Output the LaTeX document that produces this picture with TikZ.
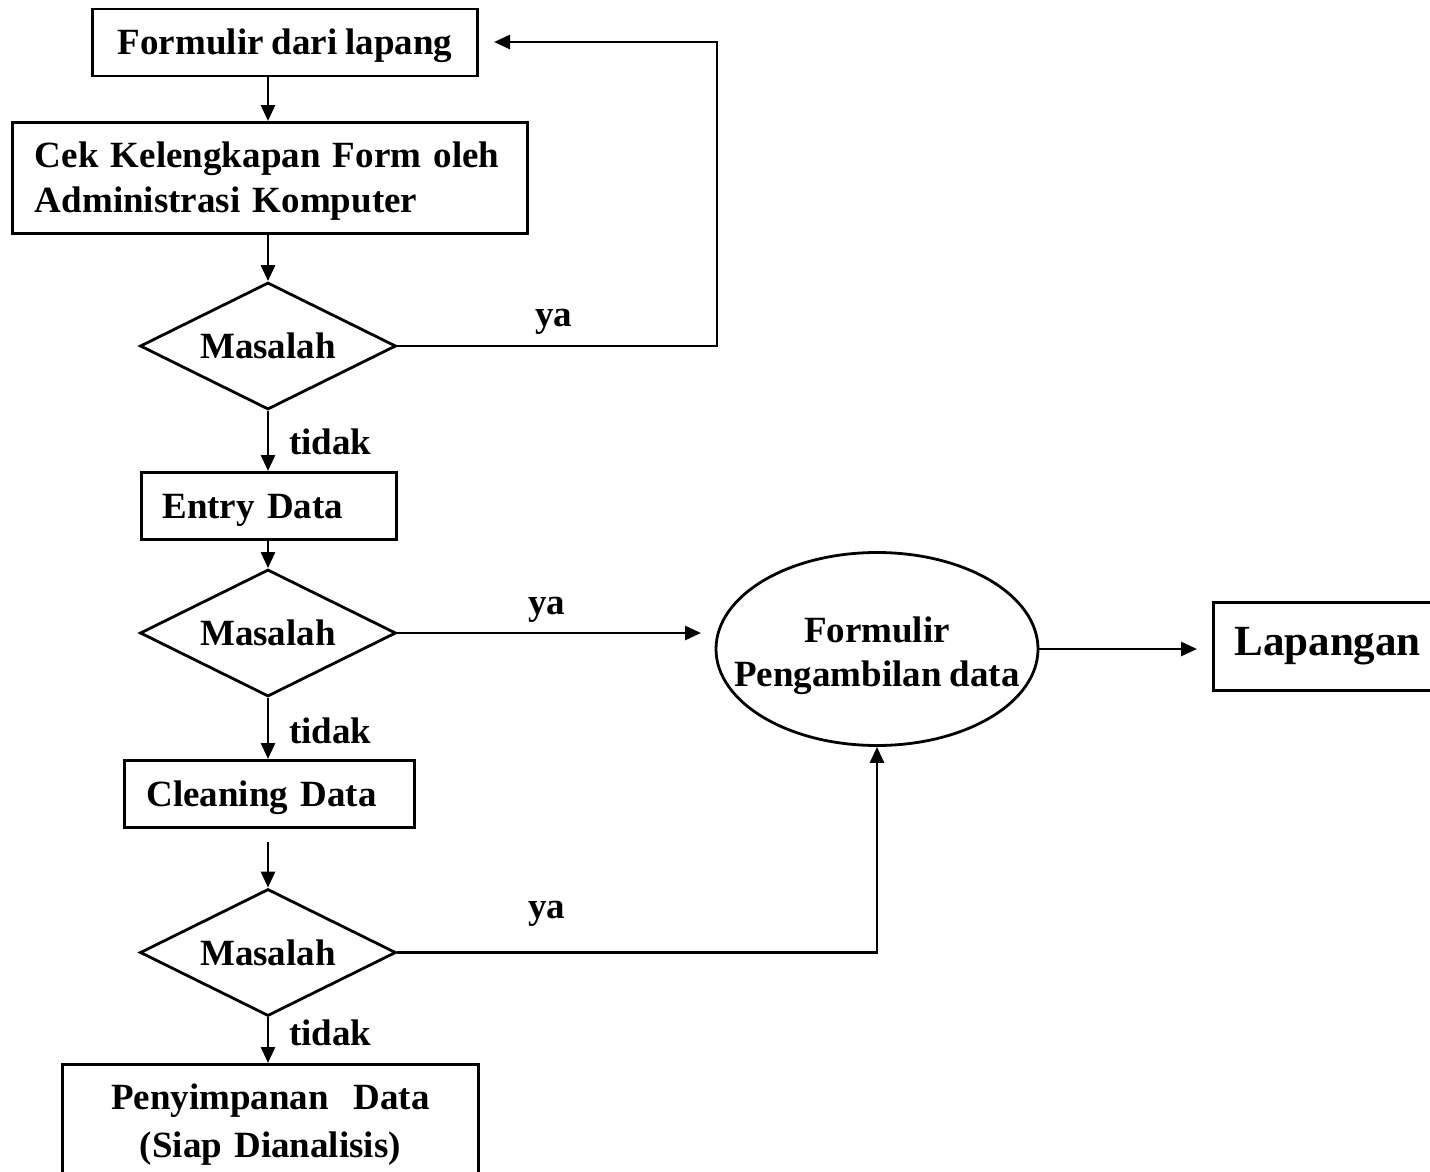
\documentclass[tikz,border=0pt]{standalone}
\usepackage{fontspec}
\setmainfont[WordSpace=0.85]{Liberation Serif}
\usetikzlibrary{arrows.meta,shapes.geometric}
\begin{document}
\begin{tikzpicture}[x=1pt,y=-1pt,
  every node/.style={font=\bfseries\fontsize{37}{45}\selectfont},
  box/.style={draw, line width=2.8pt, rectangle, inner ysep=0pt},
  one/.style={text height=25pt, text depth=0pt},
  dia/.style={draw, line width=2.8pt, diamond, aspect=2, minimum width=256pt, minimum height=127pt, inner sep=0pt},
  conn/.style={line width=2.8pt},
  arr/.style={conn, -{Triangle[length=16pt,width=14pt]}},
  lbl/.style={inner sep=0pt, anchor=base west}
]
\useasboundingbox (0,0) rectangle (1430,1172);
\clip (0,0) rectangle (1430,1172);

% boxes
\node[box, one, minimum width=385pt, minimum height=67pt] (f1) at (285,42.5) {Formulir dari lapang};
\node[box, anchor=north west, text width=470pt, inner xsep=22.5pt, minimum height=111pt, align=left] (cek) at (11,121) {\rule{0pt}{33pt}Cek Kelengkapan Form oleh\\Administrasi Komputer};
\node[dia] (d1) at (268,346) {Masalah};
\node[box, one, anchor=north west, text width=213pt, inner xsep=21pt, minimum height=67pt, align=left] (entry) at (140,471) {Entry Data};
\node[dia] (d2) at (268,633) {Masalah};
\node[draw, ellipse, line width=2.8pt, minimum width=322pt, minimum height=193pt, inner xsep=-30pt, inner ysep=0pt, align=center,
      font=\bfseries\fontsize{37}{44}\selectfont] (ell) at (877,649) {\rule{0pt}{39pt}Formulir\\Pengambilan data};
\node[box, anchor=north west, text width=220pt, inner xsep=21pt, minimum height=88pt, align=left,
      font=\bfseries\fontsize{43}{50}\selectfont] (lap) at (1212,601) {Lapangan};
\node[box, one, anchor=north west, text width=246pt, inner xsep=22pt, minimum height=67pt, align=left] (clean) at (123,759) {Cleaning Data};
\node[dia] (d3) at (268,952.5) {Masalah};
\node[box, anchor=north west, text width=376pt, inner xsep=20pt, minimum height=121pt, align=center,
      font=\bfseries\fontsize{37}{48}\selectfont] (pen) at (61,1063) {Penyimpanan\ \ Data\\(Siap Dianalisis)};

% labels
\node[lbl] (ya1) at (535,326) {ya};
\node[lbl] (ya2) at (528,614) {ya};
\node[lbl] (ya3) at (528,918) {ya};
\node[lbl] (ti1) at (289,454) {tidak};
\node[lbl] (ti2) at (289,743) {tidak};
\node[lbl] (ti3) at (289,1045) {tidak};

% helper coordinates
\coordinate (r1) at (717,42);
\coordinate (f1tip) at (494,42);
\coordinate (e2tip) at (701,633);
\coordinate (laptip) at (1197,649);
\coordinate (cstart) at (268,842);

% connectors
\draw[arr] (f1.south -| d1.north) -- (cek.north -| d1.north);
\draw[arr] (cek.south -| d1.north) -- (d1.north);
\draw[arr] (d1.east) -| (r1) -- (f1tip);
\draw[arr] (d1.south) -- (entry.north -| d1.south);
\draw[arr] (entry.south -| d2.north) -- (d2.north);
\draw[arr] (d2.east) -- (e2tip);
\draw[arr] (ell.east) -- (laptip);
\draw[arr] (d2.south) -- (clean.north -| d2.south);
\draw[arr] (cstart) -- (d3.north);
\draw[arr] (d3.east) -| (ell.south);
\draw[arr] (d3.south) -- (pen.north -| d3.south);
\end{tikzpicture}
\end{document}
